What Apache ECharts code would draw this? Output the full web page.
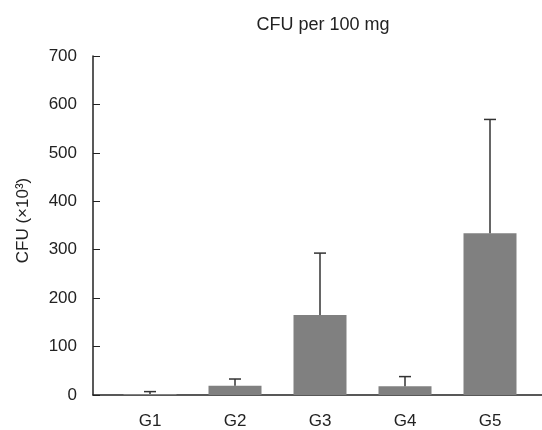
<!DOCTYPE html>
<html>
<head>
<meta charset="utf-8">
<script src="https://cdn.jsdelivr.net/npm/echarts@6/dist/echarts.min.js"></script>
<style>
html,body{margin:0;padding:0;background:#fff;}
#chart{width:542px;height:430px;}
</style>
</head>
<body>
<div id="chart"></div>
<script>
const categories = ['G1', 'G2', 'G3', 'G4', 'G5'];
const meanValues = [2, 19, 165, 18, 334];
const sdValues = [5, 14, 128, 20, 235];
const yTicks = [0, 100, 200, 300, 400, 500, 600, 700];
const titleText = 'CFU per 100 mg';
const yAxisName = 'CFU (×10³)';

const FONT = '"Liberation Sans", Arial, sans-serif';
const chart = echarts.init(document.getElementById('chart'), null, {renderer: 'canvas'});

const errorData = categories.map((c, i) => [i, meanValues[i], meanValues[i] + sdValues[i]]);

const option = {
  animation: false,
  backgroundColor: '#fff',
  title: {
    text: titleText,
    left: 318, top: 11, textAlign: 'center',
    textStyle: {fontFamily: FONT, fontSize: 18, fontWeight: 'normal', color: '#222'}
  },
  grid: [
    {left: 107.5, right: 9.5, top: 56, bottom: 35},
    {left: 93, right: 0, top: 56, bottom: 35}
  ],
  xAxis: [
    {
      type: 'category', data: categories, gridIndex: 0,
      axisLine: {show: false}, axisTick: {show: false},
      axisLabel: {fontFamily: FONT, fontSize: 17, color: '#222', margin: 18}
    },
    {
      type: 'value', gridIndex: 1, min: 0, max: 1,
      axisLine: {show: true, onZero: false, lineStyle: {color: '#222', width: 1.5}},
      axisTick: {show: false}, axisLabel: {show: false}, splitLine: {show: false}
    }
  ],
  yAxis: [
    {
      type: 'value', gridIndex: 0, min: yTicks[0], max: yTicks[yTicks.length - 1], interval: 100,
      offset: 14.5,
      name: yAxisName, nameLocation: 'middle', nameGap: 61,
      nameTextStyle: {fontFamily: FONT, fontSize: 17, color: '#222', padding: [0, 0, 0, 10]},
      axisLine: {show: true, lineStyle: {color: '#222', width: 1.5}},
      axisTick: {show: true, inside: true, length: 7, lineStyle: {color: '#222', width: 1}},
      axisLabel: {fontFamily: FONT, fontSize: 17, color: '#222', margin: 16, padding: [4, 0, 0, 0]},
      splitLine: {show: false}
    },
    {type: 'value', gridIndex: 1, show: false, min: 0, max: 1}
  ],
  series: [
    {
      type: 'bar', xAxisIndex: 0, yAxisIndex: 0,
      data: meanValues, barWidth: 53,
      itemStyle: {color: '#808080'}
    },
    {
      type: 'custom', xAxisIndex: 0, yAxisIndex: 0,
      data: errorData, z: 5,
      renderItem: function (params, api) {
        const x = api.value(0);
        const lo = api.coord([x, api.value(1)]);
        const hi = api.coord([x, api.value(2)]);
        const hw = 6;
        const style = {stroke: '#333', lineWidth: 1.5, fill: null};
        return {
          type: 'group',
          children: [
            {type: 'line', shape: {x1: hi[0], y1: hi[1], x2: lo[0], y2: lo[1]}, style: style},
            {type: 'line', shape: {x1: hi[0] - hw, y1: hi[1], x2: hi[0] + hw, y2: hi[1]}, style: style}
          ]
        };
      }
    }
  ]
};
chart.setOption(option);
</script>
</body>
</html>
